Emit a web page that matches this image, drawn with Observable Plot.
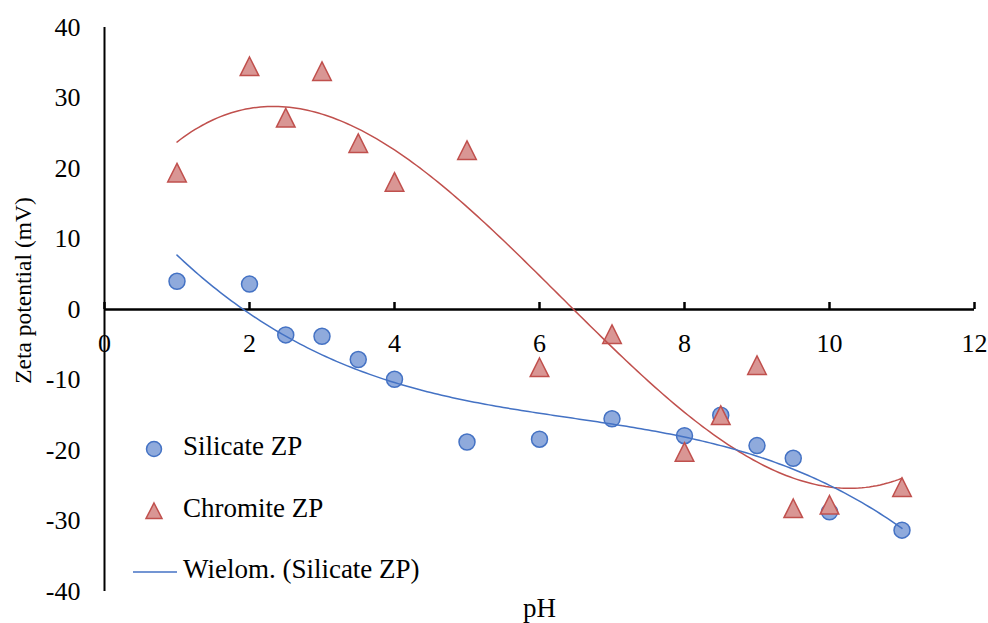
<!DOCTYPE html>
<html>
<head>
<meta charset="utf-8">
<script src="https://cdn.jsdelivr.net/npm/d3@7"></script>
<script src="https://cdn.jsdelivr.net/npm/@observablehq/plot@0.6"></script>
<style>
  html, body { margin: 0; padding: 0; background: #fff; }
  #wrap { position: relative; width: 988px; height: 623px; font-family: 'Liberation Serif', serif; }
  #legend { position: absolute; left: 0; top: 0; font-size: 27px; color: #000; font-family: 'Liberation Serif', serif; }
  .lg { position: absolute; white-space: nowrap; line-height: 1; font-family: 'Liberation Serif', serif; }
  svg text { font-family: 'Liberation Serif', serif; }
</style>
</head>
<body>
<div id="wrap"><div id="chart"></div><div id="legend"></div></div>
<script>
const pH = [1, 2, 2.5, 3, 3.5, 4, 5, 6, 7, 8, 8.5, 9, 9.5, 10, 11];
const silicateZP = [4.0, 3.6, -3.6, -3.8, -7.1, -9.9, -18.8, -18.4, -15.5, -17.9, -15.0, -19.3, -21.1, -28.7, -31.3];
const chromiteZP = [19.4, 34.5, 27.2, 33.8, 23.6, 18.1, 22.6, -8.2, -3.5, -20.2, -15.0, -7.9, -28.2, -27.7, -25.2];
const xTicks = [0, 2, 4, 6, 8, 10, 12];
const yTicks = [-40, -30, -20, -10, 0, 10, 20, 30, 40];
const seriesNames = ["Silicate ZP", "Chromite ZP", "Wielom. (Silicate ZP)"];

const blue = "#4472C4", blueFill = "#8FAADC";
const red = "#C0504D", redFill = "#D99694";

// least-squares polynomial fit (Excel "Wielom." trendline, order 3)
function polyfit(xs, ys, order) {
  const n = order + 1;
  const A = Array.from({length: n}, () => new Array(n + 1).fill(0));
  for (let k = 0; k < xs.length; k++) {
    for (let i = 0; i < n; i++) {
      for (let j = 0; j < n; j++) A[i][j] += Math.pow(xs[k], i + j);
      A[i][n] += ys[k] * Math.pow(xs[k], i);
    }
  }
  for (let i = 0; i < n; i++) {
    let p = i;
    for (let r = i + 1; r < n; r++) if (Math.abs(A[r][i]) > Math.abs(A[p][i])) p = r;
    [A[i], A[p]] = [A[p], A[i]];
    for (let r = 0; r < n; r++) {
      if (r === i) continue;
      const f = A[r][i] / A[i][i];
      for (let c = i; c <= n; c++) A[r][c] -= f * A[i][c];
    }
  }
  const coef = A.map((row, i) => row[n] / row[i]);
  return x => coef.reduce((s, c, i) => s + c * Math.pow(x, i), 0);
}
const fitS = polyfit(pH, silicateZP, 3);
const fitC = polyfit(pH, chromiteZP, 3);
const xs = d3.range(0, 201).map(i => d3.min(pH) + (d3.max(pH) - d3.min(pH)) * i / 200);
const trendS = xs.map(x => ({x, y: fitS(x)}));
const trendC = xs.map(x => ({x, y: fitC(x)}));

const silicate = pH.map((x, i) => ({x, y: silicateZP[i]}));
const chromite = pH.map((x, i) => ({x, y: chromiteZP[i]}));

// triangle centred on its bounding box, width == height
const tri = {
  draw(ctx, size) {
    const h = Math.sqrt(size / Math.PI);
    ctx.moveTo(0, -h);
    ctx.lineTo(h, h);
    ctx.lineTo(-h, h);
    ctx.closePath();
  }
};

const font = "'Liberation Serif', serif";
const chart = Plot.plot({
  width: 988,
  height: 623,
  marginLeft: 104,
  marginRight: 14,
  marginTop: 27,
  marginBottom: 32,
  style: {fontFamily: font, fontSize: "26px", background: "#fff", color: "#000"},
  x: {domain: [0, 12], axis: null},
  y: {domain: [-40, 40], axis: null},
  marks: [
    Plot.axisY(yTicks, {tickSize: 0, tickPadding: 24, label: null, fontSize: 26, fontFamily: font, tickFormat: d => String(d)}),
    Plot.ruleX([0], {y1: -40, y2: 40, stroke: "#000", strokeWidth: 2}),
    Plot.ruleY([0], {x1: 0, x2: 12, stroke: "#000", strokeWidth: 2.5}),
    Plot.ruleX(xTicks, {x: d => d, y1: 0, y2: 0, insetTop: -7, stroke: "#000", strokeWidth: 2.5}),
    Plot.text(xTicks, {x: d => d, y: 0, dy: 34, text: d => String(d), fontSize: 26, fontFamily: font}),
    Plot.text(["pH"], {frameAnchor: "bottom", dy: 25, fontSize: 27, fontFamily: font}),
    Plot.text(["Zeta potential (mV)"], {frameAnchor: "left", textAnchor: "middle", dx: -81, dy: -19, rotate: -90, fontSize: 23.5, fontFamily: font}),
    Plot.dot(silicate, {x: "x", y: "y", r: 8, fill: blueFill, stroke: blue, strokeWidth: 1.5}),
    Plot.dot(chromite, {x: "x", y: "y", r: 9.3, symbol: tri, fill: redFill, stroke: red, strokeWidth: 1.5}),
    Plot.line(trendC, {x: "x", y: "y", stroke: red, strokeWidth: 1.5}),
    Plot.line(trendS, {x: "x", y: "y", stroke: blue, strokeWidth: 1.5})
  ]
});
document.getElementById("chart").appendChild(chart);

// legend (inside plot area, bottom-left)
const lg = document.getElementById("legend");
const entries = [
  {name: seriesNames[0], top: 447, sym: `<circle cx="10" cy="10" r="7.5" fill="${blueFill}" stroke="${blue}" stroke-width="1.5"/>`},
  {name: seriesNames[1], top: 509, sym: `<path d="M10,2 L18,17.5 L2,17.5 Z" fill="${redFill}" stroke="${red}" stroke-width="1.5"/>`},
  {name: seriesNames[2], top: 570, line: true}
];
for (const e of entries) {
  const s = document.createElement("div");
  s.className = "lg";
  if (e.line) {
    s.style.left = "133px"; s.style.top = (e.top - 10) + "px";
    s.innerHTML = `<svg width="44" height="20"><line x1="0" y1="10" x2="44" y2="10" stroke="${blue}" stroke-width="1.5"/></svg>`;
  } else {
    s.style.left = "144px"; s.style.top = (e.top - 10) + "px";
    s.innerHTML = `<svg width="20" height="20">${e.sym}</svg>`;
  }
  lg.appendChild(s);
  const t = document.createElement("div");
  t.className = "lg";
  t.style.left = "183px";
  t.style.top = (e.top - 14) + "px";
  t.textContent = e.name;
  lg.appendChild(t);
}
</script>
</body>
</html>
